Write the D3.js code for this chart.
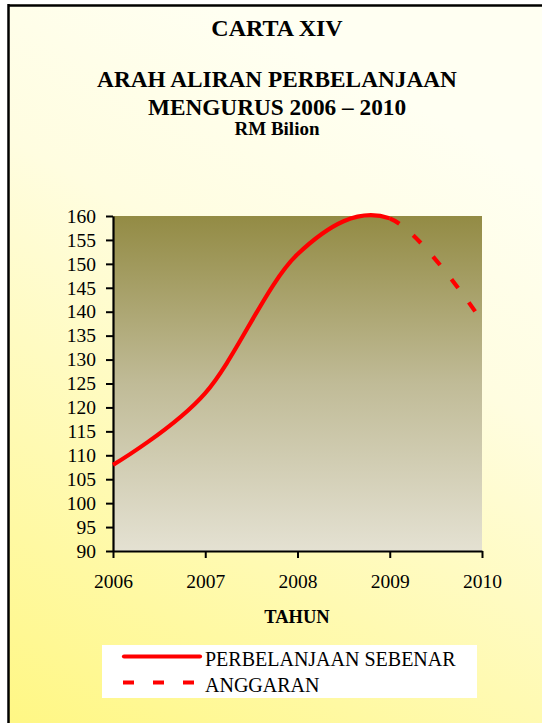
<!DOCTYPE html>
<html><head><meta charset="utf-8">
<script src="https://cdn.jsdelivr.net/npm/d3@7"></script>
<style>body{margin:0;background:#fff}svg{display:block}</style>
</head><body><svg id="c" width="542" height="727"></svg>
<script>
const years = [2006, 2007, 2008, 2009, 2010];
const values = [108, 123, 152, 159.5, 138];
const actualUntil = 2009; // solid up to here, dashed after (budget)
const yTicks = [90,95,100,105,110,115,120,125,130,135,140,145,150,155,160];
const titleLines = ["CARTA XIV", "ARAH ALIRAN PERBELANJAAN", "MENGURUS 2006 \u2013 2010", "RM Bilion"];
const legendLabels = ["PERBELANJAAN SEBENAR", "ANGGARAN"];
const xTitle = "TAHUN";
const FONT = "Liberation Serif";

const svg = d3.select("#c");
const defs = svg.append("defs");
const bg = defs.append("linearGradient").attr("id","bg").attr("x1",0.4).attr("y1",0).attr("x2",0).attr("y2",1);
bg.append("stop").attr("offset",0).attr("stop-color","#fffff2");
bg.append("stop").attr("offset",0.3).attr("stop-color","#fffde0");
bg.append("stop").attr("offset",1).attr("stop-color","#fff784");
const pg = defs.append("linearGradient").attr("id","pg").attr("x1",0).attr("y1",0).attr("x2",0).attr("y2",1);
pg.append("stop").attr("offset",0).attr("stop-color","#938b44");
pg.append("stop").attr("offset",0.5).attr("stop-color","#c0bb97");
pg.append("stop").attr("offset",1).attr("stop-color","#e4e1d2");

// frame
svg.append("rect").attr("x",8).attr("y",4).attr("width",540).attr("height",719).attr("fill","url(#bg)");
svg.append("line").attr("x1",8.5).attr("x2",8.5).attr("y1",4).attr("y2",723).attr("stroke","#000").attr("stroke-width",2.5);
svg.append("line").attr("x1",8).attr("x2",542).attr("y1",5.5).attr("y2",5.5).attr("stroke","#000").attr("stroke-width",2.5);

// titles
const tl = [{y:36,s:24},{y:87,s:23.3},{y:115,s:23.3},{y:135,s:19}];
titleLines.forEach((t,i)=>{
  svg.append("text").attr("x",277).attr("y",tl[i].y).attr("text-anchor","middle")
    .style("font-family",FONT).style("font-weight","bold").style("font-size",tl[i].s+"px").text(t);
});

const L=113, R=482, T=216, B=551;
const x = d3.scaleLinear().domain([2006,2010]).range([L,R]);
const y = d3.scaleLinear().domain([90,160]).range([B,T]);

svg.append("rect").attr("x",L).attr("y",T).attr("width",R-L).attr("height",B-T).attr("fill","url(#pg)");

// axes
const ya = svg.append("g").attr("transform",`translate(${L},0)`)
  .call(d3.axisLeft(y).tickValues(yTicks).tickSize(7).tickSizeOuter(0).tickPadding(10).tickFormat(d3.format("d")));
const xa = svg.append("g").attr("transform",`translate(0,${B})`)
  .call(d3.axisBottom(x).tickValues(years).tickSize(7).tickSizeOuter(0).tickPadding(16).tickFormat(d3.format("d")));
[ya,xa].forEach(g=>{
  g.select(".domain").attr("stroke","#000").attr("stroke-width",2.2);
  g.selectAll(".tick line").attr("stroke","#000").attr("stroke-width",2);
  g.selectAll("text").style("font-family",FONT).attr("fill","#000");
});
ya.selectAll("text").style("font-size","19.5px");
xa.selectAll("text").style("font-size","19.5px");

svg.append("text").attr("x",297).attr("y",623).attr("text-anchor","middle")
  .style("font-family",FONT).style("font-weight","bold").style("font-size","18.5px").text(xTitle);

// line
const pts = years.map((yr,i)=>[x(yr), y(values[i])]);
const line = d3.line().curve(d3.curveCatmullRom.alpha(0));
const dStr = line(pts);
const split = x(actualUntil);
const cp = defs.append("clipPath").attr("id","cs");
cp.append("rect").attr("x",0).attr("y",0).attr("width",split).attr("height",727);
const cp2 = defs.append("clipPath").attr("id","cd");
cp2.append("rect").attr("x",split).attr("y",0).attr("width",542-split).attr("height",727);

svg.append("path").attr("d",dStr).attr("fill","none").attr("stroke","#ff0000").attr("stroke-width",4.2)
  .attr("clip-path","url(#cs)");
const dp = svg.append("path").attr("d",dStr).attr("fill","none").attr("stroke","#ff0000").attr("stroke-width",4.2)
  .attr("clip-path","url(#cd)");
const node = dp.node(); const tot = node.getTotalLength();
let lo=0, hi=tot;
for(let k=0;k<40;k++){const m=(lo+hi)/2; if(node.getPointAtLength(m).x<split) lo=m; else hi=m;}
dp.attr("stroke-dasharray","11,18").attr("stroke-dashoffset",-lo);

// legend
svg.append("rect").attr("x",102).attr("y",645).attr("width",375).attr("height",53).attr("fill","#fff");
svg.append("line").attr("x1",124).attr("x2",200).attr("y1",656.5).attr("y2",656.5).attr("stroke","#ff0000").attr("stroke-width",4.2).attr("stroke-linecap","round");
svg.append("line").attr("x1",123).attr("x2",200).attr("y1",682.5).attr("y2",682.5).attr("stroke","#ff0000").attr("stroke-width",4.2).attr("stroke-dasharray","11,19");
svg.append("text").attr("x",205).attr("y",666).style("font-family",FONT).style("font-size","20px").text(legendLabels[0]);
svg.append("text").attr("x",205).attr("y",692).style("font-family",FONT).style("font-size","20px").text(legendLabels[1]);
</script></body></html>
